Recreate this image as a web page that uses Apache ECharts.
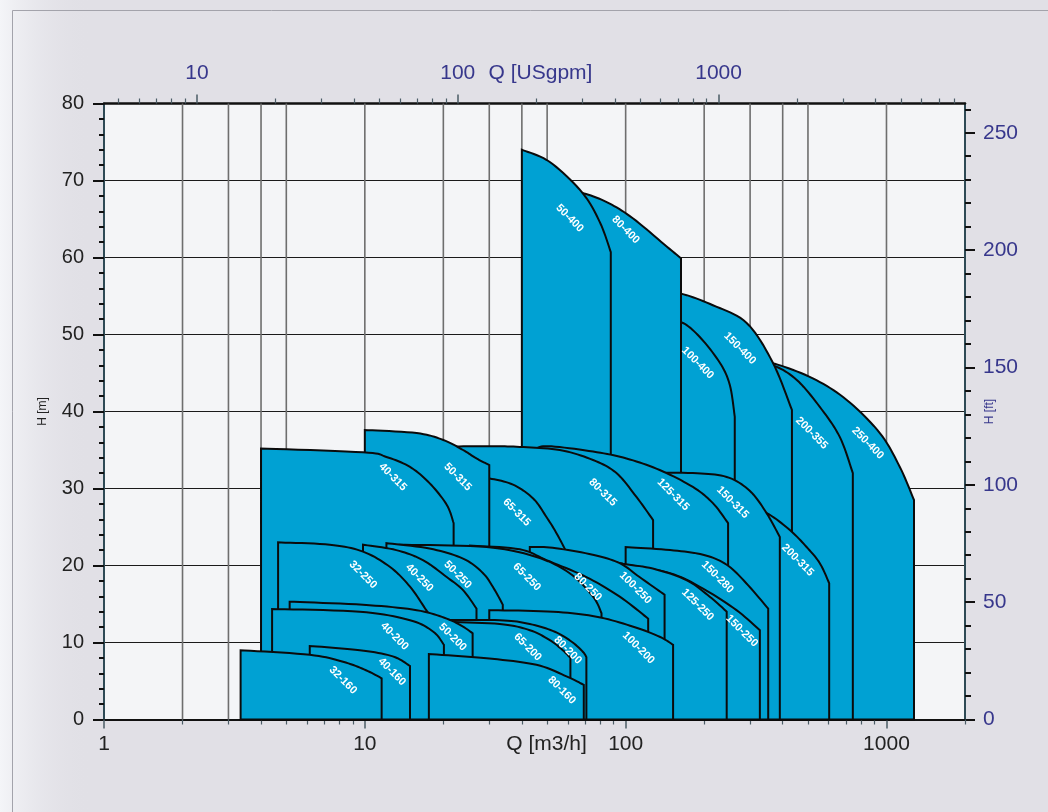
<!DOCTYPE html>
<html><head><meta charset="utf-8">
<script src="https://cdn.jsdelivr.net/npm/echarts@6/dist/echarts.min.js"></script>
<style>html,body{margin:0;padding:0;background:#e1e0e6}#c{width:1048px;height:812px}</style>
</head><body><div id="c"></div>
<script>
// ---- axis tick values ----
const qMajor = [1, 10, 100, 1000];
const qMinor = [2,3,4,5,6,7,8,9,20,30,40,50,60,70,80,90,200,300,400,500,600,700,800,900,2000];
const qGrid = [2,3,4,5,10,20,30,40,50,100,200,300,400,500,1000];
const gpmMajor = [10, 100, 1000];
const gpmMinor = [5,6,7,8,9,20,30,40,50,60,70,80,90,200,300,400,500,600,700,800,900,2000,3000,4000,5000,6000,7000,8000];
const ftMajor = [0, 50, 100, 150, 200, 250];
const ftMinor = [10,20,30,40,60,70,80,90,110,120,130,140,160,170,180,190,210,220,230,240,260];
const Q_MIN = 1, Q_MAX = 2000, H_MAX = 80;
const GPM = 4.402868, FT = 1 / 0.3048;

// ---- pump tiles (draw order back -> front), top curve points [Q m3/h, H m] ----
const tileNames = ['250-400','200-355','150-400','100-400','80-400','50-400',
  '200-315','150-315','125-315','80-315','65-315','50-315','40-315',
  '150-280','150-250','125-250','100-250','80-250','65-250','50-250','40-250','32-250',
  '100-200','80-200','65-200','50-200','40-200',
  '80-160','40-160','32-160'];
const tileTops = [
  [[327,46.2],[373,46.2],[522,44.3],[704,41.5],[943,37.2],[1125,32.8],[1275,28.5]],
  [[327,45.9],[373,45.9],[453,44.1],[555,40.6],[662,36.7],[743,32.0]],
  [[135,55.3],[163,55.3],[216,53.8],[291,51.5],[366,46.4],[434,40.2]],
  [[135,51.6],[163,51.6],[192,49.7],[230,46.3],[251,43.4],[262,39.3]],
  [[61,68.5],[68,68.4],[84.6,67.2],[106.5,65.1],[144,61.4],[163,59.9]],
  [[40,74.0],[51.2,72.4],[67.9,68.5],[79.6,64.6],[87.7,60.7]],
  [[274,27.9],[347,26.8],[426,24.6],[494,22.4],[555,20.3],[603,17.7]],
  [[113,32.0],[181,32.0],[244,31.5],[299,29.7],[347,26.8],[390,23.7]],
  [[44.8,35.1],[50.4,35.5],[75,34.8],[100.7,33.9],[135,32.4],[181,30.2],[216,28.1],[247,25.5]],
  [[21.2,35.45],[30.1,35.5],[39.3,35.4],[55.9,35.0],[75,33.7],[92.2,32.0],[110,28.9],[127.4,25.9]],
  [[25.3,31.6],[30.1,31.3],[37,30.5],[44.2,28.7],[49.7,26.3],[54.3,24.2],[59.2,21.8]],
  [[10,37.6],[15.8,37.2],[20,36.3],[23.8,35.0],[26.8,33.9],[30,33.05]],
  [[4,35.2],[9.84,34.7],[12.1,34.1],[14.9,32.8],[17.7,30.7],[20.6,27.9],[21.9,25.5]],
  [[100,22.4],[148,22.0],[198,21.4],[244,20.1],[290,17.7],[352,14.4]],
  [[79.6,21.0],[94.9,20.3],[148,19.0],[198,17.0],[266,14.2],[327,11.6]],
  [[72.8,21.4],[94.9,20.3],[127,19.6],[171,18.1],[210,15.95],[244,14.0]],
  [[42.9,22.4],[52.5,22.3],[74.8,21.4],[94.9,20.3],[113,18.5],[141,16.2]],
  [[25.3,22.6],[39.3,22.1],[49.7,20.7],[70.7,18.5],[94.9,15.95],[122,13.1]],
  [[13.6,22.7],[29.3,22.4],[45.5,21.1],[61,19.0],[75,15.95],[80.8,13.8]],
  [[12.1,22.9],[17.7,22.2],[23.8,20.9],[28.4,19.0],[31.5,16.8],[33.8,14.9]],
  [[9.84,22.7],[13.2,22.0],[16.7,20.7],[20.6,18.5],[23.8,16.8],[26.8,14.4]],
  [[4.65,23.0],[7.34,22.7],[9.84,21.8],[12.5,19.8],[14.9,17.25],[17.2,14.2],[18.05,13.2]],
  [[30,14.2],[52.7,14.0],[77.3,13.35],[107,12.05],[135,10.75],[152,9.7]],
  [[19.4,12.9],[32.9,12.9],[42.9,12.4],[53.5,11.4],[62.1,10.1],[68.5,8.8],[70.7,8.1]],
  [[19.4,12.7],[32.9,12.4],[42.9,11.6],[51.2,10.3],[57.4,9.0],[61.4,8.0]],
  [[5.15,15.3],[9.84,14.9],[15.8,14.2],[20.6,13.1],[23.8,12.05],[25.9,11.2]],
  [[4.41,14.35],[9.56,14.0],[14.9,12.9],[18.3,11.4],[20.1,9.7]],
  [[17.6,8.5],[29.3,7.95],[45.5,7.1],[59.3,5.6],[69.1,4.5]],
  [[6.15,9.55],[9.56,9.0],[12.8,8.2],[14.9,6.95]],
  [[3.34,9.0],[6.15,8.4],[8.25,7.5],[10.1,6.4],[11.6,5.35]]
];
// label anchor per tile [Q, H]
const labelQ = [848,517,274,189,100,61, 457,257,152,81.7,38.2,22.7,12.8, 225,279,189,109,71.6,41.8,22.7,16.2,9.84, 112,60,42.1,21.7,13.0, 56.9,12.7,8.25];
const labelH = [35.9,37.2,48.2,46.3,63.6,65.1, 20.7,28.2,29.2,29.5,26.9,31.5,31.5, 18.5,11.5,14.9,17.1,17.2,18.5,18.8,18.4,18.8, 9.3,9.0,9.4,10.7,10.8, 3.8,6.2,5.1];

const NARROW = "'Liberation Sans Narrow','Liberation Sans',Arial,sans-serif";
const NAVY = '#37378c';
const plain = v => String(v);

function catmull(pts, steps) {
  const out = [pts[0]];
  for (let i = 0; i < pts.length - 1; i++) {
    const p0 = pts[Math.max(0, i - 1)], p1 = pts[i], p2 = pts[i + 1], p3 = pts[Math.min(pts.length - 1, i + 2)];
    const c1 = [p1[0] + (p2[0] - p0[0]) / 6, p1[1] + (p2[1] - p0[1]) / 6];
    const c2 = [p2[0] - (p3[0] - p1[0]) / 6, p2[1] - (p3[1] - p1[1]) / 6];
    for (let s = 1; s <= steps; s++) {
      const t = s / steps, u = 1 - t;
      out.push([
        u*u*u*p1[0] + 3*u*u*t*c1[0] + 3*u*t*t*c2[0] + t*t*t*p2[0],
        u*u*u*p1[1] + 3*u*u*t*c1[1] + 3*u*t*t*c2[1] + t*t*t*p2[1]
      ]);
    }
  }
  return out;
}

const chart = echarts.init(document.getElementById('c'));
const option = {
  animation: false,
  backgroundColor: '#e1e0e6',
  graphic: [
    { type: 'rect', left: 0, top: 0, shape: { width: 90, height: 812 },
      style: { fill: new echarts.graphic.LinearGradient(0, 0, 1, 0, [
        { offset: 0, color: 'rgba(246,247,250,0.9)' }, { offset: 1, color: 'rgba(225,224,230,0)' }]) },
      silent: true, z: -20 },
    { type: 'rect', left: 10, top: 8, shape: { width: 1060, height: 830 },
      style: { fill: 'none', stroke: '#a3a3ab', lineWidth: 1 }, silent: true, z: -10 }
  ],
  grid: { left: 104, top: 103.5, width: 861, height: 616, show: true, backgroundColor: '#f4f5f7', borderWidth: 0 },
  xAxis: [
    { type: 'log', min: Q_MIN, max: Q_MAX, position: 'bottom',
      name: 'Q [m3/h]', nameLocation: 'middle', nameGap: 14, nameMoveOverlap: false,
      nameTextStyle: { fontFamily: NARROW, fontSize: 21, color: '#222', verticalAlign: 'top', padding: [0, 0, 0, 24] },
      axisLine: { show: true, onZero: false, lineStyle: { color: '#111', width: 2 } },
      axisTick: { show: true, customValues: qMajor, length: 9, lineStyle: { color: '#4b5c66', width: 1.5 } },
      axisLabel: { customValues: qMajor, formatter: plain, fontFamily: NARROW, fontSize: 21, color: '#222', margin: 14 },
      splitLine: { show: false } },
    { type: 'log', min: Q_MIN * GPM, max: Q_MAX * GPM, position: 'top',
      name: 'Q [USgpm]', nameLocation: 'middle', nameGap: 20, nameMoveOverlap: false,
      nameTextStyle: { fontFamily: NARROW, fontSize: 21, color: NAVY, verticalAlign: 'bottom', padding: [0, 0, 0, 12] },
      axisLine: { show: true, onZero: false, lineStyle: { color: '#111', width: 2.5 } },
      axisTick: { show: true, customValues: gpmMajor, length: 9, lineStyle: { color: '#4b5c66', width: 1.5 } },
      axisLabel: { customValues: gpmMajor, formatter: plain, fontFamily: NARROW, fontSize: 21, color: NAVY, margin: 20 },
      splitLine: { show: false } },
    { type: 'log', min: Q_MIN, max: Q_MAX, position: 'bottom',
      axisLine: { show: false, onZero: false }, axisLabel: { show: false }, splitLine: { show: false },
      axisTick: { show: true, customValues: qMinor, length: 5, lineStyle: { color: '#4b5c66', width: 1.2 } } },
    { type: 'log', min: Q_MIN * GPM, max: Q_MAX * GPM, position: 'top',
      axisLine: { show: false, onZero: false }, axisLabel: { show: false }, splitLine: { show: false },
      axisTick: { show: true, customValues: gpmMinor, length: 5, lineStyle: { color: '#4b5c66', width: 1.2 } } }
  ],
  yAxis: [
    { type: 'value', min: 0, max: H_MAX, interval: 10, position: 'left',
      name: 'H [m]', nameLocation: 'middle', nameGap: 55, nameRotate: 90, nameMoveOverlap: false,
      nameTextStyle: { fontFamily: NARROW, fontSize: 12, color: '#222' },
      axisLine: { show: true, onZero: false, lineStyle: { color: '#2e4a55', width: 2 } },
      axisTick: { show: true, length: 11, lineStyle: { color: '#111', width: 2 } },
      minorTick: { show: true, splitNumber: 5, length: 5, lineStyle: { color: '#111', width: 2 } },
      axisLabel: { fontFamily: NARROW, fontSize: 20, color: '#222', margin: 20 },
      splitLine: { show: true, lineStyle: { color: '#1a1a1a', width: 1 } } },
    { type: 'value', min: 0, max: H_MAX * FT, position: 'right',
      name: 'H [ft]', nameLocation: 'middle', nameGap: 19, nameRotate: 90, nameMoveOverlap: false,
      nameTextStyle: { fontFamily: NARROW, fontSize: 12, color: NAVY, verticalAlign: 'top' },
      axisLine: { show: true, onZero: false, lineStyle: { color: '#2e4a55', width: 2 } },
      axisTick: { show: true, customValues: ftMajor, length: 10, lineStyle: { color: '#111', width: 2 } },
      axisLabel: { customValues: ftMajor, formatter: plain, fontFamily: NARROW, fontSize: 21, color: NAVY, margin: 18 },
      splitLine: { show: false } },
    { type: 'value', min: 0, max: H_MAX * FT, position: 'right',
      axisLine: { show: false, onZero: false }, axisLabel: { show: false }, splitLine: { show: false },
      axisTick: { show: true, customValues: ftMinor, length: 6, lineStyle: { color: '#111', width: 2 } } }
  ],
  series: [
    { type: 'custom', name: 'vgrid', xAxisIndex: 0, yAxisIndex: 0, silent: true, z: 1,
      data: qGrid.map(q => [q, 0]),
      renderItem: function (params, api) {
        const q = api.value(0);
        const a = api.coord([q, 0]), b = api.coord([q, H_MAX]);
        return { type: 'line', shape: { x1: a[0], y1: a[1], x2: b[0], y2: b[1] },
          style: { stroke: '#6e6e6e', lineWidth: 1.6 } };
      } },
    { type: 'custom', name: 'tiles', xAxisIndex: 0, yAxisIndex: 0, silent: true, z: 2,
      data: tileTops.map((t, i) => [t[0][0], t[0][1], i]),
      renderItem: function (params, api) {
        const top = tileTops[params.dataIndex];
        const px = top.map(p => api.coord(p));
        const curve = catmull(px, 10);
        const y0 = api.coord([top[0][0], 0])[1];
        const poly = [[px[0][0], y0]].concat(curve, [[px[px.length - 1][0], y0]]);
        return { type: 'polygon', shape: { points: poly },
          style: { fill: '#00a1d3', stroke: '#0b0b0b', lineWidth: 2, lineJoin: 'miter' } };
      } },
    { type: 'custom', name: 'labels', xAxisIndex: 0, yAxisIndex: 0, silent: true, z: 3,
      data: labelQ.map((q, i) => [q, labelH[i], i]),
      renderItem: function (params, api) {
        const i = params.dataIndex;
        const c = api.coord([labelQ[i], labelH[i]]);
        return { type: 'text', x: c[0], y: c[1], rotation: -Math.PI / 4,
          style: { text: tileNames[i], fill: '#ffffff', fontSize: 11, fontWeight: 'bold',
            fontFamily: "'Liberation Sans Narrow','Liberation Sans',Arial,sans-serif", align: 'center', verticalAlign: 'middle' } };
      } }
  ]
};
chart.setOption(option);
</script></body></html>
